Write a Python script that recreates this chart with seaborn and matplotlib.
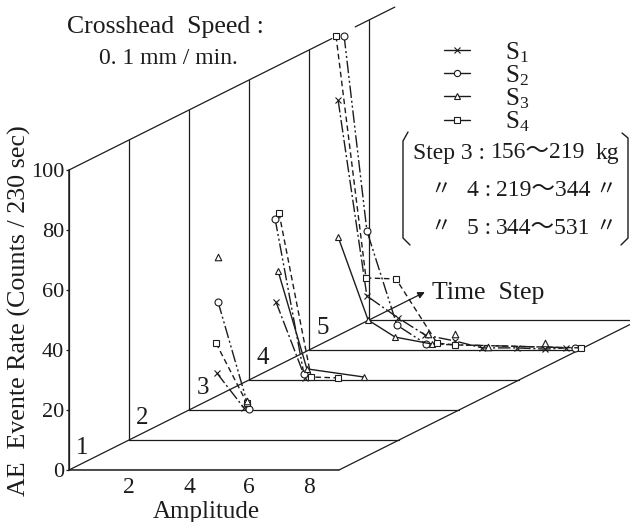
import pandas as pd
import seaborn as sns
import matplotlib.pyplot as plt
from matplotlib.lines import Line2D

s1_amp = {3: [0.93, 1.83], 4: [0.90, 1.87], 5: [0.97, 1.93, 2.97, 3.87, 4.87, 5.77, 6.93, 7.87, 8.57]}
s1_rate = {3: [12.3, 0.7], 4: [26.0, 0.7], 5: [83.3, 18.0, 10.7, 5.0, 3.0, 0.7, 0.7, 0.3, 0.7]}
s2_amp = {3: [0.97, 2.00], 4: [0.87, 1.83], 5: [1.17, 1.93, 2.93, 3.90, 8.87]}
s2_rate = {3: [36.0, 0.3], 4: [53.7, 2.0], 5: [104.7, 39.7, 8.3, 2.0, 0.7]}
s3_amp = {4: [0.97, 1.93, 3.83], 5: [0.97, 1.97, 2.87, 4.10]}
s3_rate = {4: [36.3, 3.7, 1.0], 5: [37.7, 10.0, 4.3, 2.0]}
s4_amp = {3: [0.90, 1.93], 4: [1.00, 2.07, 2.97], 5: [0.90, 1.90, 2.90, 4.27, 4.87, 9.07]}
s4_rate = {3: [22.3, 2.3], 4: [55.7, 1.0, 0.7], 5: [104.7, 24.0, 23.7, 2.3, 1.7, 0.7]}

# S3 points that have no line through them
s3_loose_step = [3, 3, 5, 5, 5, 5]
s3_loose_amp = [0.97, 1.93, 3.97, 4.87, 5.97, 7.87]
s3_loose_rate = [51.0, 3.0, 5.3, 5.3, 1.0, 2.3]

amp_ticks = [2, 4, 6, 8]
rate_ticks = [0, 20, 40, 60, 80, 100]
step_labels = [1, 2, 3, 4, 5]
series_names = ['S1', 'S2', 'S3', 'S4']

INK = '#1c1c1c'
styles = {
    'S1': dict(marker='x', linestyle=(0, (9, 2, 1.5, 2)), markersize=5),
    'S2': dict(marker='o', linestyle=(0, (9, 2, 1.5, 2, 1.5, 2)), markersize=5),
    'S3': dict(marker='^', linestyle='-', markersize=4.5),
    'S4': dict(marker='s', linestyle=(0, (4, 2.5)), markersize=4.5),
}


def shift_x(amp, step):
    return amp + 2 * (step - 1)


def shift_y(rate, step):
    return rate + 10 * (step - 1)


def fx(x):
    return x / 630


def fy(y):
    return 1 - y / 522


sns.set_style('white')
plt.rcParams['font.family'] = ['Liberation Serif', 'Noto Sans CJK JP']
plt.rcParams['mathtext.fontset'] = 'custom'
plt.rcParams['mathtext.rm'] = 'Liberation Serif'
plt.rcParams['mathtext.default'] = 'rm'

fig = plt.figure(figsize=(6.3, 5.22), dpi=100)
ax = fig.add_axes([fx(69), fy(470), 1 - fx(69), 470 / 522])
ax.set_xlim(0, 561 / 30)
ax.set_ylim(0, 470 / 3)
ax.patch.set_alpha(0)

# walls and floors of the step planes
for k in range(1, 7):
    ax.plot([shift_x(0, k)] * 2, [shift_y(0, k), shift_y(100, k)], color=INK, lw=0.9, zorder=1)
    ax.plot([shift_x(0, k), shift_x(9, k)], [shift_y(0, k)] * 2, color=INK, lw=0.9, zorder=1)

# edges running back along the step direction
ax.plot([shift_x(0, 1), shift_x(0, 6)], [shift_y(0, 1), shift_y(0, 6)], color=INK, lw=0.9, zorder=1)
ax.plot([shift_x(9, 1), shift_x(9, 7)], [shift_y(0, 1), shift_y(0, 7)], color=INK, lw=0.9, zorder=1)
ax.plot([shift_x(0, 1), shift_x(0, 5.38)], [shift_y(100, 1), shift_y(100, 5.38)], color=INK, lw=0.9, zorder=1)
ax.plot([shift_x(0, 5.77), shift_x(0, 6.43)], [shift_y(100, 5.77), shift_y(100, 6.43)], color=INK, lw=0.9, zorder=1)
ax.annotate('', xy=(shift_x(0, 6.93), shift_y(0, 6.93)), xytext=(shift_x(0, 6), shift_y(0, 6)),
            arrowprops=dict(arrowstyle='-|>', color=INK, lw=0.9, shrinkA=0, shrinkB=0, mutation_scale=10))

# curves
amps = {'S1': s1_amp, 'S2': s2_amp, 'S3': s3_amp, 'S4': s4_amp}
rates = {'S1': s1_rate, 'S2': s2_rate, 'S3': s3_rate, 'S4': s4_rate}
for name in series_names:
    for step in amps[name]:
        df = pd.DataFrame({'amp': amps[name][step], 'rate': rates[name][step]})
        df['x'] = shift_x(df['amp'], step)
        df['y'] = shift_y(df['rate'], step)
        sns.lineplot(data=df, x='x', y='y', sort=False, estimator=None, errorbar=None, ax=ax,
                     color=INK, lw=1.0, markerfacecolor='white', markeredgecolor=INK,
                     markeredgewidth=0.8, zorder=3, **styles[name])

loose = pd.DataFrame({'amp': s3_loose_amp, 'rate': s3_loose_rate, 'step': s3_loose_step})
loose['x'] = shift_x(loose['amp'], loose['step'])
loose['y'] = shift_y(loose['rate'], loose['step'])
sns.scatterplot(data=loose, x='x', y='y', marker='^', s=22, facecolor='white', edgecolor=INK,
                linewidth=0.8, ax=ax, zorder=3)

# axes
sns.despine(ax=ax)
ax.spines['left'].set_bounds(0, 100)
ax.spines['bottom'].set_bounds(0, 9)
for side in ['left', 'bottom']:
    ax.spines[side].set_color(INK)
    ax.spines[side].set_linewidth(1.1)
ax.set_xticks(amp_ticks)
ax.set_yticks(rate_ticks)
ax.tick_params(axis='x', length=0, pad=5, labelsize=17, colors=INK)
ax.tick_params(axis='y', length=2.5, width=0.9, left=True, pad=1, labelsize=16, colors=INK)
ax.set_xlabel('')
ax.set_ylabel('')

for step in step_labels:
    ax.text(shift_x(0.45, step), shift_y(7.3, step), str(step), fontsize=18, color=INK,
            ha='center', va='center')

fig.text(fx(206), fy(512), 'Amplitude', fontsize=18, color=INK, ha='center', va='center')
fig.text(fx(19), fy(311), 'AE  Evente Rate (Counts / 230 sec)', fontsize=18.7, color=INK,
         rotation=90, ha='center', va='center')
fig.text(fx(165), fy(27), 'Crosshead  Speed :', fontsize=18.5, color=INK, ha='center', va='center')
fig.text(fx(168), fy(58), '0. 1 mm / min.', fontsize=17, color=INK, ha='center', va='center')
fig.text(fx(488), fy(293), 'Time  Step', fontsize=18.5, color=INK, ha='center', va='center')

# legend
handles = [Line2D([], [], color=INK, lw=1.0, marker=styles[n]['marker'], markersize=styles[n]['markersize'] - 0.5,
                  markerfacecolor='white', markeredgecolor=INK, markeredgewidth=0.8) for n in series_names]
labels = [r'$\mathrm{S}_{%s}$' % n[1] for n in series_names]
fig.legend(handles, labels, loc='upper left', bbox_to_anchor=(fx(444), fy(40)), frameon=False,
           fontsize=18, handlelength=1.05, handletextpad=1.4, labelspacing=-0.06, borderpad=0,
           borderaxespad=0, labelcolor=INK)

# step load table and its brackets
rows_y = [153, 191, 228]
fig.text(fx(413), fy(rows_y[0]), 'Step 3 :', fontsize=17, color=INK, ha='left', va='center')
fig.text(fx(491), fy(rows_y[0]), '156～219', fontsize=17, color=INK, ha='left', va='center')
fig.text(fx(596), fy(rows_y[0]), 'kg', fontsize=17, color=INK, ha='left', va='center')
for y, step_txt, load_txt in zip(rows_y[1:], ['4 :', '5 :'], ['219～344', '344～531']):
    fig.text(fx(441), fy(y), '〃', fontsize=15, color=INK, ha='center', va='center')
    fig.text(fx(467), fy(y), step_txt, fontsize=17, color=INK, ha='left', va='center')
    fig.text(fx(496), fy(y), load_txt, fontsize=17, color=INK, ha='left', va='center')
    fig.text(fx(606), fy(y), '〃', fontsize=15, color=INK, ha='center', va='center')
fig.add_artist(Line2D([fx(408), fx(403), fx(403), fx(410)], [fy(132), fy(141), fy(238), fy(245)],
                      color=INK, lw=1.0))
fig.add_artist(Line2D([fx(622), fx(628), fx(628), fx(621)], [fy(133), fy(138), fy(238), fy(245)],
                      color=INK, lw=1.0))

fig.savefig('out.png', dpi=100)
